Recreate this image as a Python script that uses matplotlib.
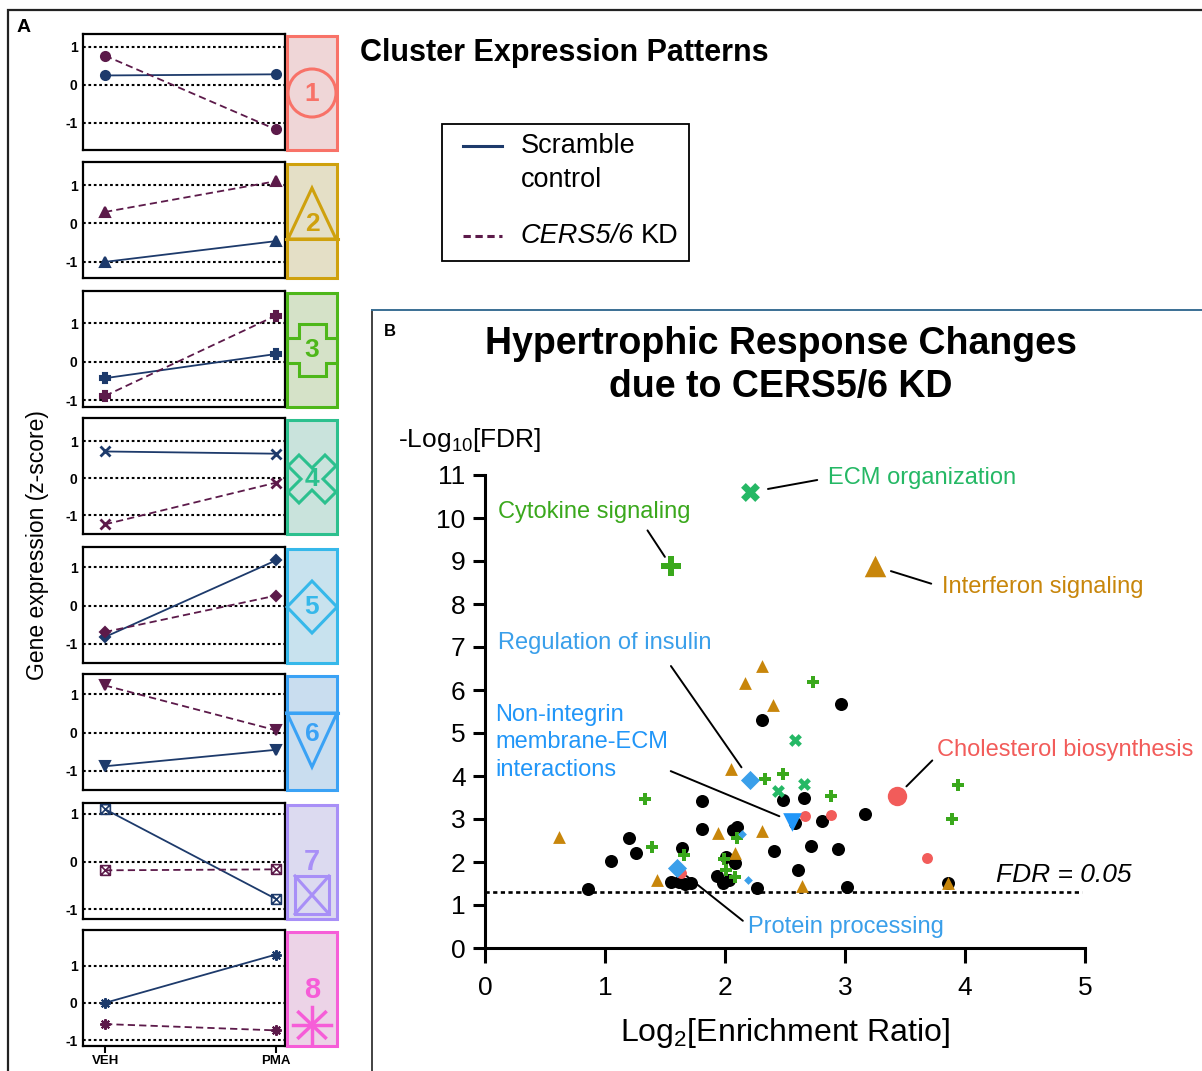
import matplotlib
matplotlib.use('Agg')
import matplotlib.pyplot as plt
from matplotlib.patches import Rectangle, Polygon, Circle
from matplotlib.path import Path

plt.rcParams['font.family'] = ['Liberation Sans', 'DejaVu Sans']
plt.rcParams['mathtext.fontset'] = 'custom'
plt.rcParams['mathtext.rm'] = 'Liberation Sans'
plt.rcParams['mathtext.it'] = 'Liberation Sans:italic'
plt.rcParams['mathtext.bf'] = 'Liberation Sans:bold'

# ---------------- data ----------------
# panel A: mean z-score per cluster at VEH / PMA
conditions = ['VEH', 'PMA']
scramble = [[0.25, 0.28], [-1.0, -0.46], [-0.43, 0.20], [0.72, 0.66],
            [-0.82, 1.18], [-0.88, -0.45], [1.10, -0.78], [0.0, 1.30]]
cers_kd = [[0.77, -1.17], [0.30, 1.10], [-0.89, 1.20], [-1.24, -0.12],
           [-0.69, 0.26], [1.23, 0.06], [-0.18, -0.16], [-0.57, -0.74]]

# panel B: enriched pathways (log2 enrichment ratio, -log10 FDR)
other_x = [2.97, 2.31, 2.48, 2.66, 1.81, 1.81, 2.10, 2.07, 2.58, 2.81, 3.17,
           1.20, 1.26, 1.05, 1.64, 2.72, 2.94, 2.41, 2.01, 2.08, 2.61, 1.93,
           1.98, 2.03, 1.55, 1.62, 1.67, 1.72, 0.86, 2.27, 3.02, 3.86]
other_y = [5.67, 5.30, 3.44, 3.48, 3.42, 2.76, 2.82, 2.74, 2.91, 2.95, 3.11,
           2.55, 2.22, 2.03, 2.32, 2.38, 2.30, 2.26, 2.11, 1.98, 1.81, 1.67,
           1.52, 1.58, 1.54, 1.53, 1.50, 1.52, 1.37, 1.39, 1.42, 1.52]

c1_x = [2.67, 2.88, 1.63, 3.68]
c1_y = [3.07, 3.09, 1.74, 2.09]
c2_x = [2.31, 2.17, 2.40, 2.05, 0.62, 1.94, 2.31, 2.08, 1.43, 2.64, 3.86]
c2_y = [6.56, 6.17, 5.65, 4.16, 2.59, 2.67, 2.71, 2.22, 1.57, 1.44, 1.52]
c3_x = [2.73, 2.33, 2.48, 2.88, 1.33, 1.39, 2.10, 1.66, 1.99, 2.01, 2.08, 3.94, 3.89]
c3_y = [6.19, 3.93, 4.05, 3.53, 3.46, 2.36, 2.55, 2.16, 2.07, 1.81, 1.64, 3.79, 2.99]
c4_x = [2.58, 2.44, 2.66]
c4_y = [4.84, 3.65, 3.81]
c5_x = [2.14, 2.19]
c5_y = [2.65, 1.58]

hl_names = ['ECM organization', 'Cytokine signaling', 'Interferon signaling',
            'Regulation of insulin', 'Non-integrin\nmembrane-ECM\ninteractions',
            'Cholesterol biosynthesis', 'Protein processing']
hl_x = [2.21, 1.55, 3.25, 2.21, 2.56, 3.43, 1.60]
hl_y = [10.60, 8.88, 8.88, 3.91, 2.94, 3.53, 1.85]
hl_cluster = [4, 3, 2, 5, 6, 1, 5]

fdr_cut = 1.3  # -log10(0.05)

# ---------------- styles ----------------
W, H = 1202, 1071
navy = '#1d3a6b'
plum = '#5c1a4a'
box_edge = ['#f87268', '#cfa10d', '#4eb71a', '#2cc08e', '#36b8ea', '#3aa2f5', '#a88ff7', '#f65dd8']
box_fill = ['#efd6d7', '#e4dfc6', '#d5e2c8', '#c9e3dc', '#c8e2ee', '#c9ddef', '#dcdaf0', '#ecd3e7']
pt_color = {1: '#f25c5a', 2: '#c8860b', 3: '#3aa81c', 4: '#25b865', 5: '#3a9fea', 6: '#2196f8'}
pt_marker = {1: 'o', 2: '^', 3: 'P', 4: 'X', 5: 'D', 6: 'v'}

boxx = Path([(-1, -1), (1, -1), (1, 1), (-1, 1), (-1, -1), (-1, -1), (1, 1), (-1, 1), (1, -1)],
            [1, 2, 2, 2, 2, 1, 2, 1, 2])
small_mk = ['o', '^', 'P', 'x', 'D', 'v', boxx, (8, 2, 0)]
small_ms = [6.5, 6.5, 7, 6.5, 5, 6.5, 7, 7.5]
small_mew = [1.5, 1.5, 1.5, 2.0, 1.5, 1.5, 1.2, 1.5]

fig = plt.figure(figsize=(W / 100, H / 100), dpi=100)

# ---------------- panel A ----------------
panel_top = [34, 162, 291, 418, 547, 674, 803, 930]
panel_ylim = [(-1.71, 1.34), (-1.42, 1.6), (-1.18, 1.84), (-1.5, 1.62),
              (-1.5, 1.53), (-1.5, 1.53), (-1.2, 1.23), (-1.16, 1.96)]
xs = [0, 1]
for i in range(8):
    a = fig.add_axes([83 / W, 1 - (panel_top[i] + 116) / H, 202 / W, 116 / H])
    for g in (-1, 0, 1):
        a.axhline(g, color='k', ls=(0, (1.3, 1.3)), lw=1.5, zorder=1)
    mk = small_mk[i]
    open_mk = i == 6
    a.plot(xs, scramble[i], color=navy, lw=1.3, marker=mk, ms=small_ms[i],
           mfc='none' if open_mk else navy, mew=small_mew[i], zorder=3, clip_on=False)
    a.plot(xs, cers_kd[i], color=plum, lw=1.3, ls=(0, (4, 2.3)), marker=mk, ms=small_ms[i],
           mfc='none' if open_mk else plum, mew=small_mew[i], zorder=3, clip_on=False)
    a.set_xlim(-0.129, 1.053)
    a.set_ylim(*panel_ylim[i])
    a.set_yticks([-1, 0, 1])
    a.set_yticklabels(['-1', '0', '1'], fontweight='bold', fontsize=10)
    a.tick_params(axis='y', length=0, pad=4)
    if i < 7:
        a.set_xticks([])
    else:
        a.set_xticks(xs)
        a.set_xticklabels(conditions, fontweight='bold', fontsize=9.5)
        a.tick_params(axis='x', length=5, width=1.5, pad=1.5)
    for s in a.spines.values():
        s.set_linewidth(1.6)

# ---------------- panel B ----------------
ax = fig.add_axes([485 / W, 1 - 948 / H, 600 / W, 473 / H])
ax.scatter(other_x, other_y, s=88, c='black', marker='o', lw=0, zorder=2, clip_on=False)
ax.scatter(c1_x, c1_y, s=62, c=pt_color[1], marker='o', lw=0, zorder=3, clip_on=False)
ax.scatter(c2_x, c2_y, s=85, c=pt_color[2], marker='^', lw=0, zorder=3, clip_on=False)
ax.scatter(c3_x, c3_y, s=78, c=pt_color[3], marker='P', lw=0, zorder=3, clip_on=False)
ax.scatter(c4_x, c4_y, s=85, c=pt_color[4], marker='X', lw=0, zorder=3, clip_on=False)
ax.scatter(c5_x, c5_y, s=20, c=pt_color[5], marker='D', lw=0, zorder=3, clip_on=False)

hl_size = {1: 195, 2: 240, 3: 200, 4: 185, 5: 95, 6: 180}
txt_pos = [(2.86, 10.93), (0.9125, 10.14), (3.808, 8.395), (1.0, 7.09),
           (0.083, 4.78), (3.767, 4.60), (2.19, 0.49)]
txt_ha = ['left', 'center', 'left', 'center', 'left', 'left', 'left']
relpos = [(0, 0.5), (0.75, 0), (0, 0.5), (0.77, 0), (0.84, 0.29), (0, 0.25), (0, 0.6)]
shrA = [6, 4, 6, 8, 0, 2, 2]
shrB = [13, 8, 12, 11, 10, 10, 9]
for k in range(len(hl_names)):
    c = hl_cluster[k]
    ax.scatter([hl_x[k]], [hl_y[k]], s=hl_size[c], c=pt_color[c], marker=pt_marker[c],
               lw=0, zorder=4, clip_on=False)
    ax.annotate(hl_names[k], xy=(hl_x[k], hl_y[k]), xytext=txt_pos[k],
                ha=txt_ha[k], va='center', fontsize=17, color=pt_color[c], linespacing=1.3,
                arrowprops=dict(arrowstyle='-', color='black', lw=1.4, relpos=relpos[k],
                                shrinkA=shrA[k], shrinkB=shrB[k]))

ax.axhline(fdr_cut, xmin=0, xmax=0.995, color='black', lw=1.9, ls=(0, (1.6, 1.3)), zorder=1)
ax.text(4.825, 1.70, 'FDR = 0.05', style='italic', fontsize=19, ha='center', va='center')

ax.set_xlim(0, 5)
ax.set_ylim(0, 11)
ax.set_xticks(range(6))
ax.set_yticks(range(12))
for side in ('top', 'right'):
    ax.spines[side].set_visible(False)
for side in ('left', 'bottom'):
    ax.spines[side].set_linewidth(2.2)
ax.tick_params(axis='both', width=2.2, labelsize=19)
ax.tick_params(axis='x', length=11, pad=9)
ax.tick_params(axis='y', length=9, pad=5)
ax.set_xlabel(r'Log$_2$[Enrichment Ratio]', fontsize=23, va='center')
ax.xaxis.set_label_coords(0.5, -0.18)
ax.text(-0.145, 1.074, r'-Log$_{10}$[FDR]', transform=ax.transAxes, fontsize=19,
        ha='left', va='center')
fig.text(781 / W, 1 - 366 / H, 'Hypertrophic Response Changes\ndue to CERS5/6 KD',
         fontsize=27, fontweight='bold', ha='center', va='center', linespacing=1.25)

# ---------------- overlay: frames, cluster boxes, legend ----------------
ov = fig.add_axes([0, 0, 1, 1], zorder=5)
ov.set_xlim(0, W)
ov.set_ylim(H, 0)
ov.axis('off')
ov.patch.set_alpha(0)

ov.plot([8, 8, W], [H, 10, 10], color='#222222', lw=1.6, solid_joinstyle='miter')
ov.plot([372, 372], [H, 310], color='#222222', lw=1.2)
ov.plot([372, W], [310, 310], color='#3a6f94', lw=1.4)
ov.text(24, 28, 'A', fontsize=14, fontweight='bold', ha='center', va='center')
ov.text(390, 331, 'B', fontsize=12, fontweight='bold', ha='center', va='center')
ov.text(360, 53, 'Cluster Expression Patterns', fontsize=22, fontweight='bold',
        ha='left', va='center')
ov.text(38, 545, 'Gene expression (z-score)', fontsize=16.5, rotation=90,
        ha='center', va='center')

cx = 312
for i in range(8):
    T = panel_top[i]
    ec = box_edge[i]
    ov.add_patch(Rectangle((286.5, T + 1.5), 50, 114, fc=box_fill[i], ec=ec, lw=2.2, zorder=1))
    kw = dict(fc='none', ec=ec, lw=2.2, zorder=2)
    num_y = T + 60
    num_fs = 19
    if i == 0:
        ov.add_patch(Circle((cx, T + 59), 24, **kw))
    elif i == 1:
        ov.add_patch(Polygon([(cx, T + 26), (cx - 24, T + 77), (cx + 24, T + 77)], **kw))
        ov.plot([286, 338], [T + 77, T + 77], color=ec, lw=2.2, zorder=2)
        num_y = T + 62
    elif i == 2:
        cy = T + 59
        ov.add_patch(Polygon([(cx - 13.5, cy - 26), (cx + 13.5, cy - 26), (cx + 13.5, cy - 12.5),
                              (cx + 25, cy - 12.5), (cx + 25, cy + 12.5), (cx + 13.5, cy + 12.5),
                              (cx + 13.5, cy + 26), (cx - 13.5, cy + 26), (cx - 13.5, cy + 12.5),
                              (cx - 25, cy + 12.5), (cx - 25, cy - 12.5), (cx - 13.5, cy - 12.5)], **kw))
        num_y = cy
    elif i == 3:
        cy = T + 61
        s, t = 24, 11
        ov.add_patch(Polygon([(cx, cy - t), (cx + s - t, cy - s), (cx + s, cy - s + t), (cx + t, cy),
                              (cx + s, cy + s - t), (cx + s - t, cy + s), (cx, cy + t),
                              (cx - s + t, cy + s), (cx - s, cy + s - t), (cx - t, cy),
                              (cx - s, cy - s + t), (cx - s + t, cy - s)], **kw))
        num_y = cy
    elif i == 4:
        cy = T + 60
        ov.add_patch(Polygon([(cx, cy - 26), (cx + 25, cy), (cx, cy + 26), (cx - 25, cy)], **kw))
    elif i == 5:
        ov.add_patch(Polygon([(cx - 25, T + 39), (cx + 25, T + 39), (cx, T + 93)], **kw))
        ov.plot([286, 338], [T + 39, T + 39], color=ec, lw=2.2, zorder=2)
    elif i == 6:
        ov.add_patch(Rectangle((295, T + 73), 34, 38, **kw))
        ov.plot([295, 329], [T + 73, T + 111], color=ec, lw=2.2, zorder=2)
        ov.plot([295, 329], [T + 111, T + 73], color=ec, lw=2.2, zorder=2)
        num_y, num_fs = T + 59, 21
    else:
        ay = T + 95
        for dx, dy in [(19, 0), (0, 18), (13.4, 12.7), (13.4, -12.7)]:
            ov.plot([cx - dx, cx + dx], [ay - dy, ay + dy], color=ec, lw=2.5, zorder=2)
        num_fs = 21
    ov.text(cx, num_y, str(i + 1), fontsize=num_fs, fontweight='bold', color=ec,
            ha='center', va='center', zorder=3)

# legend
ov.add_patch(Rectangle((442, 124), 247, 137, fc='white', ec='black', lw=1.3))
ov.plot([463, 502], [146, 146], color=navy, lw=2.2)
ov.plot([463, 502], [236, 236], color=plum, lw=2.2, ls=(0, (2.4, 1.5)))
ov.text(521, 146, 'Scramble', fontsize=19.5, va='center', ha='left')
ov.text(521, 180, 'control', fontsize=19.5, va='center', ha='left')
ov.text(521, 236, 'CERS5/6', fontsize=19.5, style='italic', va='center', ha='left')
ov.text(641, 236, 'KD', fontsize=19.5, va='center', ha='left')

fig.savefig('out.png', dpi=100)
